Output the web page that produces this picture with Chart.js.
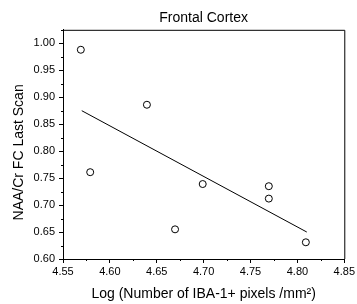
<!DOCTYPE html>
<html>
<head>
<meta charset="utf-8">
<script src="https://cdn.jsdelivr.net/npm/chart.js@4/dist/chart.umd.min.js"></script>
<style>
  html, body { margin: 0; padding: 0; background: #fff; }
  #wrap { width: 357px; height: 304px; }
</style>
</head>
<body>
<div id="wrap"><canvas id="myChart"></canvas></div>
<script>
// measured values
const logIba = [4.569, 4.579, 4.6395, 4.6695, 4.699, 4.7695, 4.7695, 4.809];
const naaCr = [0.988, 0.761, 0.886, 0.655, 0.739, 0.735, 0.712, 0.631];
// fitted line ends
const fitX = [4.57, 4.81];
const fitY = [0.875, 0.650];

const xTicks = [4.55, 4.60, 4.65, 4.70, 4.75, 4.80, 4.85];
const yTicks = [0.60, 0.65, 0.70, 0.75, 0.80, 0.85, 0.90, 0.95, 1.00];
const yTitle = 'NAA/Cr FC Last Scan';

const FONT = 'Liberation Sans, Arial, sans-serif';

// box round the plot, short minor ticks, and the y title (sits a bit below the axis middle)
const frame = {
    id: 'frame',
    afterDraw(chart) {
        const { ctx, chartArea: a, scales: { x, y } } = chart;
        ctx.save();
        ctx.strokeStyle = '#000';
        ctx.lineWidth = 1;
        ctx.beginPath();
        ctx.moveTo(a.left, a.top + 0.5);
        ctx.lineTo(a.right + 0.5, a.top + 0.5);
        ctx.lineTo(a.right + 0.5, a.bottom);
        for (let i = 0; i < xTicks.length - 1; i++) {
            const px = Math.round(x.getPixelForValue((xTicks[i] + xTicks[i + 1]) / 2)) + 0.5;
            ctx.moveTo(px, a.bottom);
            ctx.lineTo(px, a.bottom + 2);
        }
        for (let i = 0; i < yTicks.length; i++) {
            const py = Math.round(y.getPixelForValue(yTicks[i] + 0.025)) + 0.5;
            ctx.moveTo(a.left, py);
            ctx.lineTo(a.left - 2, py);
        }
        ctx.stroke();

        ctx.translate(19, (a.top + a.bottom) / 2 + 8);
        ctx.rotate(-Math.PI / 2);
        ctx.fillStyle = '#000';
        ctx.font = '14px ' + FONT;
        ctx.textAlign = 'center';
        ctx.textBaseline = 'middle';
        ctx.fillText(yTitle, 0, 0);
        ctx.restore();
    }
};

const ctx = document.getElementById('myChart');
const chart = new Chart(ctx, {
    type: 'scatter',
    data: {
        datasets: [
            {
                label: 'fit',
                data: fitX.map((v, i) => ({ x: v, y: fitY[i] })),
                showLine: true,
                borderColor: '#000',
                borderWidth: 1,
                pointRadius: 0
            },
            {
                label: 'NAA/Cr',
                data: logIba.map((v, i) => ({ x: v, y: naaCr[i] })),
                pointRadius: 3.5,
                pointBorderWidth: 1,
                pointBorderColor: '#000',
                pointBackgroundColor: '#fff'
            }
        ]
    },
    options: {
        responsive: true,
        maintainAspectRatio: false,
        animation: false,
        layout: { padding: { left: 0, right: 9, top: 0, bottom: 0 } },
        plugins: {
            legend: { display: false },
            tooltip: { enabled: false },
            title: {
                display: true,
                text: 'Frontal Cortex',
                fullSize: false,
                color: '#000',
                font: { family: FONT, size: 14, weight: 'normal' },
                padding: { top: 10, bottom: 3 }
            }
        },
        scales: {
            x: {
                type: 'linear',
                min: 4.55,
                max: 4.85,
                afterFit: (s) => { s.height = 45; },
                afterBuildTicks: (s) => { s.ticks = xTicks.map(v => ({ value: v })); },
                ticks: {
                    color: '#000',
                    padding: 2,
                    maxRotation: 0,
                    font: { family: FONT, size: 11 },
                    callback: (v) => v.toFixed(2)
                },
                grid: { drawOnChartArea: false, tickLength: 4, color: '#000' },
                border: { color: '#000', width: 1 },
                title: {
                    display: true,
                    text: 'Log (Number of IBA-1+ pixels /mm²)',
                    color: '#000',
                    font: { family: FONT, size: 14 },
                    padding: { top: 0, bottom: 1 }
                }
            },
            y: {
                type: 'linear',
                min: 0.60,
                max: 1.025,
                afterFit: (s) => { s.width = 63; },
                afterBuildTicks: (s) => { s.ticks = yTicks.map(v => ({ value: v })); },
                ticks: {
                    color: '#000',
                    padding: 4,
                    font: { family: FONT, size: 11 },
                    callback: (v) => v.toFixed(2)
                },
                grid: { drawOnChartArea: false, tickLength: 4, color: '#000' },
                border: { color: '#000', width: 1 }
            }
        }
    },
    plugins: [frame]
});
</script>
</body>
</html>
